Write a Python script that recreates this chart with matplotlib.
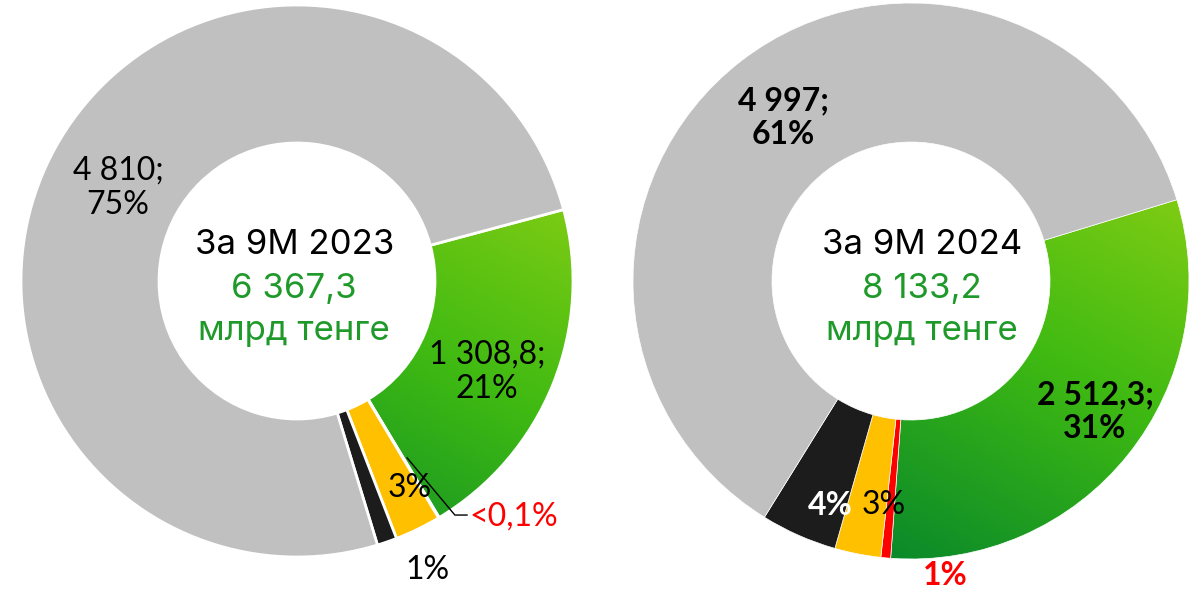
import matplotlib.pyplot as plt
import numpy as np
from matplotlib.colors import LinearSegmentedColormap

# порядок секторов по часовой стрелке: зелёный, красный, жёлтый, чёрный, серый
vals_2023 = [1308.8, 2.5, 172, 74, 4810]
vals_2024 = [2512.3, 45.9, 218, 360, 4997]
colors = ['#3db815', '#ff0000', '#ffc000', '#1c1c1c', '#c0c0c0']

total_2023 = "6 367,3"
total_2024 = "8 133,2"

green_cmap = LinearSegmentedColormap.from_list("g", ["#0b8a2a", "#3fba12", "#8dd014"])
txt_green = "#1f9a2a"
lbl_font = "Lato"
ctr_font = "Inter"


def donut(fig, cx, cy, R, vals, start, lw):
    W, H = 1199, 590
    ax = fig.add_axes([(cx - R) / W, (H - cy - R) / H, 2 * R / W, 2 * R / H])
    wedges, _ = ax.pie(vals, colors=colors, startangle=start, counterclock=False,
                       radius=1, wedgeprops=dict(width=0.5, edgecolor='white', linewidth=lw))
    # градиент для зелёного сектора
    xx, yy = np.meshgrid(np.linspace(-1, 1, 300), np.linspace(-1, 1, 300))
    d = np.array([0.55, 1.0]) / np.hypot(0.55, 1.0)
    g = xx * d[0] + yy * d[1]
    g = (g + 0.9) / 1.8
    im = ax.imshow(np.clip(g, 0, 1), extent=[-1, 1, -1, 1], origin='lower',
                   cmap=green_cmap, zorder=0.5)
    wedges[0].set_facecolor('none')
    im.set_clip_path(wedges[0])
    ax.set_xlim(-1, 1)
    ax.set_ylim(-1, 1)
    ax.set_aspect('equal')
    ax.axis('off')
    return ax


fig = plt.figure(figsize=(11.99, 5.9), dpi=100)
fs = 23
fc = 25

# 2023
ax1 = donut(fig, 297, 281, 276, vals_2023, 15, 2)
ax1.text(-0.649, 0.337, "4 810;\n75%", ha='center', va='center', fontsize=fs, family=lbl_font)
ax1.text(0.688, -0.33, "1 308,8;\n21%", ha='center', va='center', fontsize=fs, family=lbl_font)
ax1.text(0.41, -0.75, "3%", ha='center', va='center', fontsize=fs, family=lbl_font)
ax1.text(0.625, -0.855, "<0,1%", ha='left', va='center', fontsize=fs, family=lbl_font, color='red')
ax1.plot([0.399, 0.572, 0.616], [-0.641, -0.848, -0.848], color='black', lw=1)
ax1.text(0.471, -1.047, "1%", ha='center', va='center', fontsize=fs, family=lbl_font)
ax1.text(-0.01, 0.13, "За 9М 2023", ha='center', va='center', fontsize=fc, family=ctr_font)
ax1.text(-0.01, -0.03, total_2023, ha='center', va='center', fontsize=fc, family=ctr_font, color=txt_green)
ax1.text(-0.01, -0.18, "млрд тенге", ha='center', va='center', fontsize=fc, family=ctr_font, color=txt_green)

# 2024
ax2 = donut(fig, 911, 281, 278, vals_2024, 17, 0.5)
ax2.text(-0.46, 0.586, "4 997;\n61%", ha='center', va='center', fontsize=fs, family=lbl_font, weight='bold')
ax2.text(0.662, -0.471, "2 512,3;\n31%", ha='center', va='center', fontsize=fs, family=lbl_font, weight='bold')
ax2.text(-0.29, -0.806, "4%", ha='center', va='center', fontsize=fs, family=lbl_font, weight='bold', color='white')
ax2.text(-0.097, -0.806, "3%", ha='center', va='center', fontsize=fs, family=lbl_font)
ax2.text(0.122, -1.058, "1%", ha='center', va='center', fontsize=fs, family=lbl_font, weight='bold', color='red')
ax2.text(0.04, 0.13, "За 9М 2024", ha='center', va='center', fontsize=fc, family=ctr_font)
ax2.text(0.04, -0.03, total_2024, ha='center', va='center', fontsize=fc, family=ctr_font, color=txt_green)
ax2.text(0.04, -0.18, "млрд тенге", ha='center', va='center', fontsize=fc, family=ctr_font, color=txt_green)

fig.savefig("out.png", dpi=100)
